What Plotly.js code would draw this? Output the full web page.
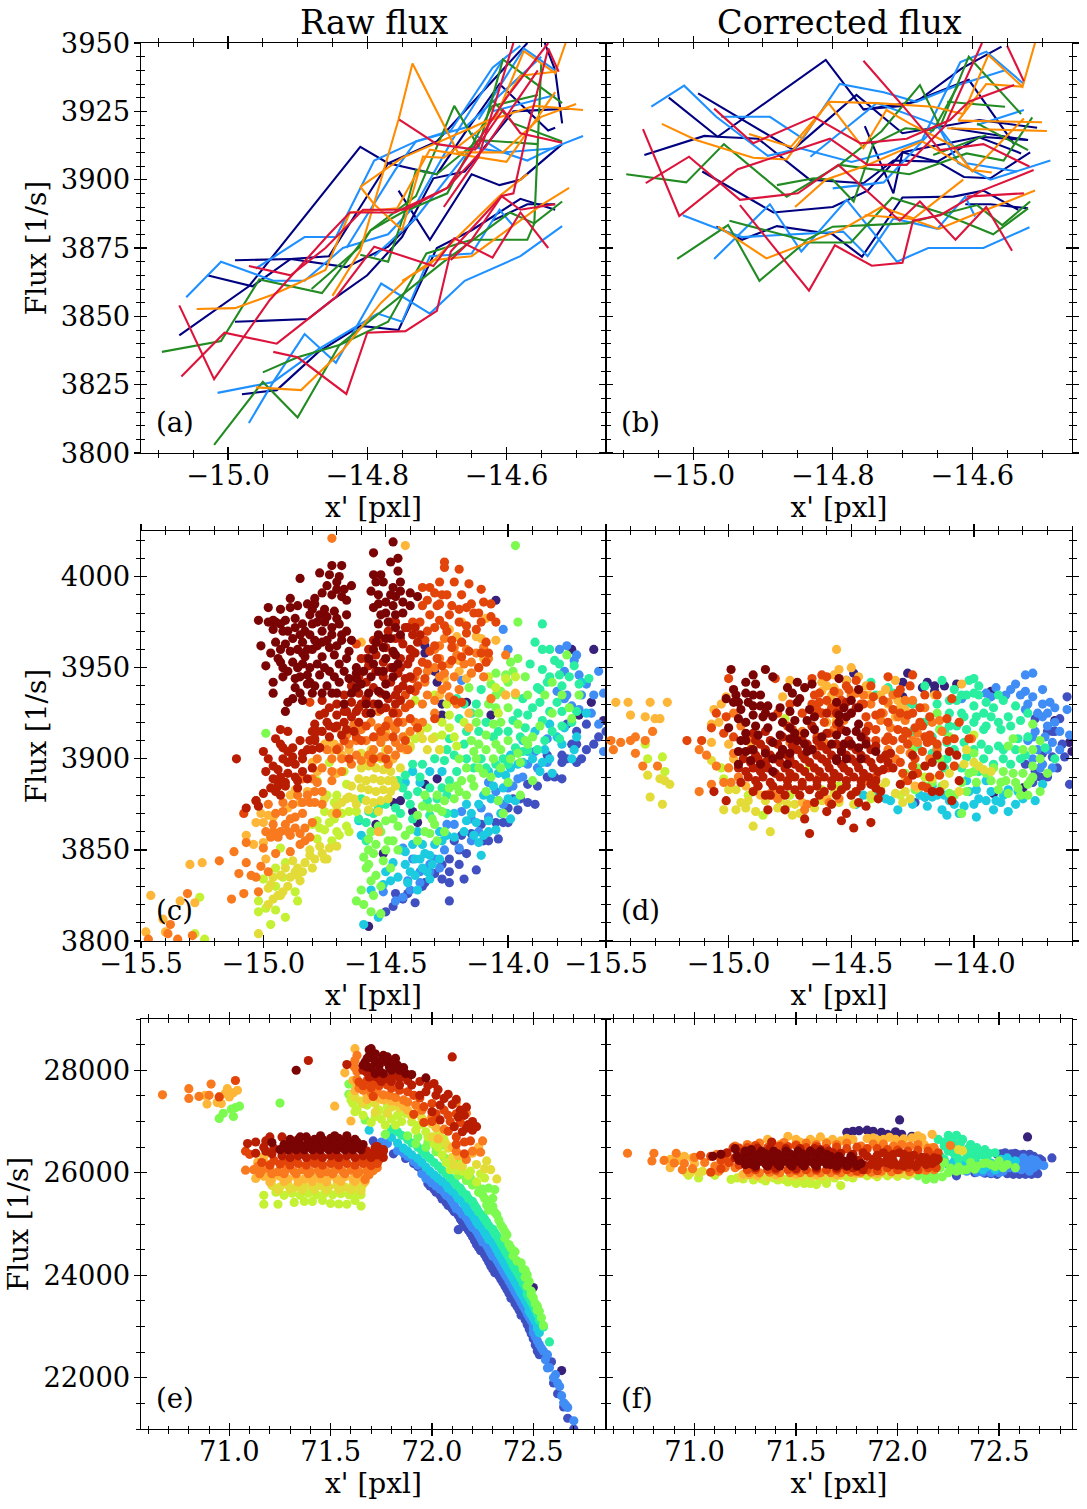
<!DOCTYPE html>
<html>
<head>
<meta charset="utf-8">
<script src="https://cdn.plot.ly/plotly-3.0.1.min.js"></script>
<style>body{margin:0;background:#fff}</style>
</head>
<body>
<div id="chart"></div>
<script>

// (a) raw flux, single orbits
let aNavy = [-15.07,3843,-14.97,3861,-14.81,3912,-14.77,3906,-14.70,3902,-14.66,3917,-14.61,3935,-14.54,3918,-14.53,3919,null,null,
 -15.03,3865,-14.965,3861,-14.91,3871,-14.855,3872,-14.77,3906,-14.70,3914,-14.57,3950,null,null,
 -14.99,3870.5,-14.91,3871,-14.83,3868,-14.77,3875.5,-14.73,3886,null,null,
 -14.755,3896,-14.73,3886,-14.71,3878,-14.65,3902,-14.61,3898,-14.58,3900,-14.52,3913,null,null,
 -14.99,3848,-14.885,3849,-14.85,3856,-14.80,3865,-14.75,3879,-14.705,3900.5,-14.66,3903,-14.59,3925,-14.51,3926,null,null,
 -14.98,3821.5,-14.93,3823,-14.87,3837,-14.81,3846.5,-14.755,3845,-14.70,3875,-14.65,3881.5,-14.58,3893,-14.53,3889,null,null,
 -14.545,3950,-14.53,3940,-14.52,3920.6,null,null,
 -14.62,3885,-14.57,3891,-14.53,3891];
let aBlue = [-15.06,3857,-15.01,3870,-14.935,3863,-14.89,3863,-14.835,3875,-14.77,3880,-14.73,3891,-14.67,3918,-14.605,3944,-14.58,3949,null,null,
 -14.96,3867.5,-14.89,3879,-14.845,3879,-14.79,3907,-14.73,3914,-14.68,3918,-14.62,3941,-14.605,3944,null,null,
 -14.83,3875,-14.76,3903.5,-14.73,3914,-14.66,3919,-14.55,3945,null,null,
 -14.65,3917,-14.605,3910,-14.57,3907,-14.53,3912,-14.49,3916,null,null,
 -14.97,3811,-14.935,3826,-14.89,3843.5,-14.845,3833,-14.78,3862,-14.71,3851,-14.66,3863,-14.58,3872,-14.52,3883,null,null,
 -15.015,3822,-14.935,3826,-14.87,3838,-14.785,3851,-14.75,3848,-14.71,3872,-14.65,3873,-14.61,3889,-14.59,3883,null,null,
 -14.79,3872,-14.73,3886,-14.65,3912,-14.605,3910,-14.53,3911.5,null,null,
 -14.64,3922,-14.575,3948,-14.53,3940,null,null,
 -14.62,3925,-14.53,3931];
let aGreen = [-15.095,3837,-15.01,3841,-14.955,3863.5,-14.865,3858.5,-14.795,3881.5,-14.73,3894,-14.675,3927,-14.64,3912,-14.605,3944,-14.52,3928,null,null,
 -15.02,3803,-14.95,3826,-14.90,3813,-14.84,3839.5,-14.77,3848,-14.715,3873,-14.65,3878,-14.57,3878,-14.56,3884,-14.55,3942.5,null,null,
 -14.95,3829.5,-14.90,3835,-14.84,3839.5,-14.69,3870,-14.595,3888,-14.56,3884,-14.52,3892,null,null,
 -14.88,3860,-14.81,3875.5,-14.795,3881.5,-14.75,3888,-14.685,3895,-14.62,3927,-14.555,3931,null,null,
 -14.81,3872.5,-14.77,3870,-14.745,3889,-14.73,3903.5,-14.70,3902,-14.64,3914.5,-14.555,3913,null,null,
 -14.62,3929,-14.59,3920.6,-14.52,3914];
let aOrange = [-15.045,3852.7,-14.99,3853,-14.935,3858,-14.90,3862,-14.86,3867,-14.825,3888,-14.757,3889.5,-14.71,3911,-14.60,3906.5,-14.53,3932,null,null,
 -14.85,3857.5,-14.81,3874,-14.755,3922,-14.735,3942.5,-14.67,3910,-14.605,3910,-14.55,3923,-14.50,3927.7,null,null,
 -14.81,3897.4,-14.75,3908,-14.65,3919,-14.615,3923,-14.575,3947,-14.53,3939,-14.515,3950,null,null,
 -14.81,3897.4,-14.79,3891,-14.75,3881.6,-14.72,3908.4,-14.69,3908,-14.62,3922,-14.58,3938,-14.53,3939.5,null,null,
 -14.96,3824,-14.895,3823,-14.835,3837.7,-14.78,3855,-14.74,3864.5,-14.705,3870.6,-14.65,3872,-14.615,3878.5,-14.55,3890.7,-14.51,3897,null,null,
 -14.75,3863,-14.71,3869,-14.66,3881.6,-14.61,3894,-14.57,3902,null,null,
 -14.62,3922,-14.56,3927,-14.49,3925.5];
let aCrimson = [-15.07,3854,-15.02,3827,-14.94,3856,-14.855,3880,-14.825,3888,-14.76,3888,-14.685,3897,-14.63,3912,-14.555,3940,null,null,
 -15.067,3828,-15.005,3844,-14.93,3840,-14.885,3849,-14.845,3857,-14.79,3875.5,-14.705,3868.4,-14.675,3878.5,-14.62,3871.5,-14.58,3888,-14.54,3875,null,null,
 -14.97,3868.4,-14.91,3865,-14.86,3875,-14.806,3889,-14.745,3889,-14.685,3897,-14.60,3930,-14.54,3950,null,null,
 -14.935,3837,-14.90,3835,-14.83,3821.6,-14.80,3844,-14.745,3844.6,-14.70,3852,-14.68,3873.7,-14.607,3894,-14.59,3895,-14.57,3918,-14.54,3948,-14.525,3939.5,null,null,
 -14.754,3922,-14.70,3913,-14.645,3911,-14.605,3925.5,-14.58,3917,-14.52,3913.5,null,null,
 -14.69,3890,-14.64,3908.4,-14.59,3950,null,null,
 -14.68,3870.6,-14.65,3878,-14.607,3894,-14.58,3889,-14.53,3891];

// (b) corrected flux, single orbits
let bNavy = [-15.07,3909,-14.984,3916,-14.965,3915.7,-14.81,3943.8,-14.756,3925.7,-14.70,3927,-14.605,3936.5,-14.54,3913,null,null,
 -15.035,3930,-14.965,3915.7,-14.907,3915,-14.833,3900,-14.756,3898.7,-14.713,3907,-14.65,3906.6,-14.59,3915.5,-14.53,3909.6,null,null,
 -14.993,3931.6,-14.857,3911,-14.766,3931,-14.70,3917,-14.59,3921.8,-14.507,3919,null,null,
 -14.754,3919.6,-14.713,3895,-14.70,3910,-14.65,3906.6,-14.612,3901,-14.574,3900.5,-14.517,3910,null,null,
 -14.987,3903,-14.885,3888,-14.80,3890,-14.75,3896,-14.70,3910,-14.589,3915.7,-14.52,3914.5,null,null,
 -14.967,3882.8,-14.93,3878,-14.88,3883,-14.80,3880,-14.758,3871.8,-14.70,3893.5,-14.627,3893.8,-14.584,3896,-14.534,3889,null,null,
 -14.558,3948.7,-14.615,3940.7,-14.68,3928.5,-14.756,3925.7,null,null,
 -14.63,3918.8,-14.52,3914.5,null,null,
 -14.61,3891,-14.574,3891,-14.52,3889.5];
let bBlue = [-15.06,3926.7,-15.013,3934.4,-14.967,3923,-14.893,3908.7,-14.847,3911.5,-14.773,3906.5,-14.727,3909.6,-14.672,3914.5,-14.617,3943,-14.58,3946.8,-14.526,3935,null,null,
 -14.96,3923,-14.89,3923,-14.843,3915,-14.79,3935,-14.727,3932,-14.68,3928.5,-14.62,3934.6,-14.553,3940,null,null,
 -14.832,3908.4,-14.737,3928,-14.65,3920,-14.62,3906,-14.574,3900,-14.488,3907,null,null,
 -14.97,3871,-14.89,3891,-14.845,3873.7,-14.78,3892.6,-14.708,3870,-14.663,3875,-14.584,3875,-14.518,3882.6,null,null,
 -15.015,3887,-14.972,3882.8,-14.93,3879,-14.785,3881,-14.75,3872,-14.713,3885.8,-14.65,3882,-14.61,3893.8,-14.596,3886.5,null,null,
 -14.80,3896.8,-14.727,3899,-14.65,3920,-14.608,3906,-14.536,3903,null,null,
 -14.593,3920,-14.526,3925.5];
let bGreen = [-15.096,3902,-15.01,3899,-14.956,3913,-14.866,3893.8,-14.79,3905.4,-14.73,3917.7,-14.675,3934.6,-14.646,3919.4,-14.605,3945,-14.53,3924,null,null,
 -15.023,3871,-14.95,3883.4,-14.905,3863,-14.84,3877,-14.774,3877,-14.715,3893.4,-14.646,3888,-14.57,3880,-14.52,3889.5,null,null,
 -14.948,3885,-14.84,3877.7,-14.80,3882.8,-14.694,3884,-14.593,3890.7,-14.557,3883.4,-14.517,3892,null,null,
 -14.88,3898,-14.827,3900.5,-14.80,3900,-14.77,3892,-14.742,3913,-14.696,3918.8,-14.656,3918,-14.62,3934.6,null,null,
 -14.79,3905.4,-14.69,3902,-14.608,3909.6,-14.555,3907,-14.514,3922.8,null,null,
 -14.636,3928.5,-14.553,3926.7,null,null,
 -14.593,3920.6,-14.52,3910.8,null,null,
 -14.656,3909,-14.58,3916.3];
let bOrange = [-15.045,3920.4,-14.996,3914.5,-14.914,3908,-14.866,3907.4,-14.806,3928.5,-14.737,3928,-14.656,3926.7,-14.613,3924,-14.577,3945.6,-14.528,3934,-14.51,3950,null,null,
 -14.92,3916.7,-14.86,3912,-14.806,3928,-14.756,3911.5,-14.723,3925.5,-14.69,3920.6,-14.63,3912.7,-14.60,3903,-14.526,3922.4,null,null,
 -14.854,3890,-14.81,3900,-14.75,3905.4,-14.672,3914,-14.60,3903.5,-14.572,3902.6,null,null,
 -14.964,3882.8,-14.895,3871.2,-14.785,3882,-14.73,3890,-14.684,3885.8,-14.613,3900,null,null,
 -14.754,3887,-14.69,3885.8,-14.648,3882,-14.60,3887,-14.51,3896,null,null,
 -14.62,3921.6,-14.58,3935,-14.528,3934,null,null,
 -14.62,3921.6,-14.5,3921,null,null,
 -14.636,3918.8,-14.493,3917.8];
let bCrimson = [-15.072,3918.5,-15.02,3886.7,-14.936,3903.8,-14.804,3915,-14.75,3905.4,-14.694,3905.4,-14.64,3919.4,-14.586,3950,null,null,
 -15.068,3898.7,-15.006,3908.4,-14.933,3892.6,-14.85,3895,-14.792,3905.4,-14.704,3885,-14.675,3892,-14.624,3878,-14.58,3890,-14.543,3874,null,null,
 -14.97,3926,-14.914,3913.3,-14.827,3923,-14.76,3913.3,-14.694,3915,-14.632,3921.8,-14.605,3928.5,-14.54,3934.6,null,null,
 -14.933,3890.7,-14.834,3859.4,-14.797,3876,-14.744,3868.5,-14.70,3869.6,-14.685,3885,-14.646,3887,-14.586,3896,-14.512,3903.5,null,null,
 -14.756,3943.5,-14.696,3926,-14.646,3910.8,-14.584,3913,-14.518,3904.8,null,null,
 -14.55,3949,-14.526,3936,null,null,
 -14.608,3893.8,-14.526,3895];

// (c) raw flux against x', split by colour value, low to high
let cIndigo = [-14.05,3987,-14.34,3962,-14.34,3958,-14.30,3948,-14.29,3942,-14.27,3930,-14.27,3924,-14.17,3931,-14.07,3924,-14.39,3871,-14.37,3865,-14.47,3876,-14.44,3877,-14.54,3864,-14.51,3848,-14.29,3889,-14.34,3886,-13.74,3960,-13.65,3960,-13.66,3931,-13.71,3924,-13.61,3921,-14.57,3808];
let cDeep = [-14.24,3822,-14.41,3826,-14.38,3821,-14.43,3823,-14.47,3819,-14.50,3816,-14.46,3826,-14.34,3832,-14.24,3832,-14.18,3834,-14.13,3839,-14.20,3842,-14.27,3834,-14.24,3845,-14.17,3848,-14.08,3855,-14.04,3856,-14.02,3865,-13.92,3876,-13.89,3875,-13.96,3872,-14.0,3873,-13.78,3889,-13.81,3890,-13.78,3898,-13.72,3898,-13.70,3900,-13.65,3908,-13.63,3912,-13.72,3908,-13.74,3908,-13.78,3902,-13.68,3919,-13.72,3915,-13.76,3919,-14.19,3858,-14.15,3859,-14.24,3838,-14.30,3837,-14.11,3864,-13.98,3878,-13.92,3886,-13.60,3915,-13.84,3902,-14.20,3850,-14.27,3842,-14.35,3830,-14.10,3855,-14.05,3865,-14.0,3865,-13.95,3878,-13.88,3885,-13.84,3890,-13.76,3900,-13.68,3905,-14.22,3855];
let cBlue = [-14.02,3971,-14.0,3960,-13.79,3960,-13.76,3962,-13.73,3954,-13.63,3948,-13.68,3941,-13.61,3936,-13.63,3919,-13.61,3904,-13.77,3948,-13.71,3946,-13.74,3929,-13.77,3933,-13.71,3927,-13.80,3937,-14.19,3943,-14.51,3827,-14.43,3824,-14.46,3822,-14.41,3833,-14.36,3838,-14.32,3842,-14.30,3845,-14.26,3850,-14.39,3845,-14.43,3851,-14.20,3851,-14.15,3867,-14.11,3873,-14.05,3882,-14.0,3884,-14.08,3887,-14.04,3877,-13.96,3889,-13.92,3897,-13.89,3904,-13.84,3911,-14.19,3871,-14.22,3864,-14.12,3860,-14.36,3832,-14.32,3838,-14.28,3840,-14.40,3828,-14.15,3855,-14.08,3868,-14.02,3875,-13.98,3885,-13.94,3890,-13.88,3895,-13.84,3898,-14.25,3864,-13.70,3935,-13.65,3935,-13.76,3935,-13.66,3925,-13.72,3957];
let cCyan = [-14.59,3809,-14.53,3813,-14.51,3831,-14.48,3833,-14.56,3828,-14.41,3832,-14.32,3834,-14.38,3836,-14.35,3840,-14.32,3847,-14.35,3853,-14.30,3853,-14.27,3855,-14.42,3849,-14.39,3853,-14.36,3845,-14.31,3842,-14.42,3842,-14.11,3847,-14.12,3854,-14.05,3861,-14.08,3866,-14.13,3865,-14.17,3866,-13.99,3867,-13.97,3877,-14.17,3875,-14.12,3875,-14.07,3878,-14.02,3884,-14.08,3893,-14.01,3891,-13.96,3897,-13.87,3893,-13.92,3904,-13.86,3898,-13.82,3892,-13.74,3900,-13.72,3912,-13.77,3917,-13.83,3919,-13.89,3915,-13.94,3910,-13.99,3902,-13.68,3925,-13.70,3942,-14.61,3866,-14.60,3858,-14.42,3887,-14.39,3893,-14.36,3887,-14.32,3893,-14.27,3893,-14.45,3835,-14.40,3838,-14.37,3828,-14.33,3838,-14.28,3845,-14.25,3858,-14.22,3857,-14.38,3845,-14.34,3848,-14.28,3860,-14.15,3870,-14.10,3858,-14.08,3860,-14.03,3870,-14.0,3878,-14.14,3858,-14.18,3860,-14.22,3870,-14.10,3880,-14.06,3885,-14.04,3892,-13.99,3895,-13.94,3898,-13.90,3900,-13.85,3905,-13.80,3912,-13.78,3908,-13.73,3905,-13.83,3900,-14.37,3860,-14.44,3850,-14.47,3843,-14.50,3838];
let cSpring = [-13.86,3974,-13.89,3964,-13.86,3960,-13.83,3960,-13.81,3954,-13.91,3952,-13.86,3949,-13.79,3946,-13.73,3951,-13.67,3944,-13.71,3941,-13.78,3940,-13.84,3942,-13.88,3939,-13.94,3933,-13.87,3931,-13.80,3931,-13.83,3926,-13.92,3924,-13.98,3921,-14.04,3915,-13.93,3917,-13.86,3921,-13.78,3926,-13.79,3911,-13.97,3906,-14.02,3900,-14.13,3930,-14.20,3922,-14.17,3915,-14.24,3911,-14.21,3933,-14.11,3938,-14.17,3900,-14.21,3893,-14.26,3899,-14.30,3900,-14.35,3897,-14.39,3897,-14.42,3891,-14.45,3888,-14.43,3884,-14.37,3882,-14.32,3884,-14.27,3884,-14.24,3888,-14.11,3900,-14.05,3897,-14.0,3897,-13.94,3904,-14.6,3878,-14.57,3871,-14.61,3867,-14.53,3873,-14.46,3873,-14.39,3867,-14.32,3869,-14.25,3870,-13.72,3926,-14.25,3905,-14.22,3902,-14.18,3908,-14.14,3895,-14.09,3895,-14.15,3925,-14.18,3930,-14.12,3915,-14.06,3912,-14.09,3920,-14.00,3915,-13.95,3912,-13.92,3905,-13.88,3905,-13.85,3910,-13.82,3915,-13.78,3918,-13.74,3920,-13.96,3925,-13.90,3928,-13.87,3938,-13.83,3945,-13.79,3952,-13.75,3945,-14.41,3880,-14.36,3890,-14.33,3877,-14.29,3878,-14.25,3880,-14.44,3870,-14.40,3875,-14.50,3875,-14.55,3870,-14.58,3865,-14.58,3855];
let cGreen = [-13.97,4017,-13.96,3975,-13.99,3953,-13.96,3955,-14.05,3947,-14.01,3946,-13.98,3948,-14.07,3941,-14.03,3937,-14.0,3942,-14.05,3928,-13.97,3935,-14.16,3939,-14.13,3920,-14.06,3919,-14.09,3913,-14.12,3908,-14.14,3904,-14.17,3895,-14.19,3888,-14.20,3882,-14.15,3889,-14.13,3900,-14.05,3908,-14.0,3910,-13.93,3910,-13.96,3919,-13.82,3942,-14.04,3877,-14.09,3882,-14.0,3887,-13.9,3888,-13.95,3898,-14.35,3874,-14.32,3873,-14.29,3873,-14.26,3877,-14.37,3869,-14.31,3867,-14.27,3871,-14.24,3884,-14.32,3859,-14.29,3855,-14.40,3861,-14.45,3863,-14.47,3867,-14.5,3866,-14.53,3863,-14.57,3856,-14.54,3853,-14.52,3860,-14.49,3855,-14.55,3848,-14.59,3846,-14.57,3842,-14.51,3844,-14.58,3840,-14.54,3836,-14.56,3833,-14.60,3828,-14.62,3822,-14.59,3820,-14.56,3816,-14.52,3815,-14.99,3914,-13.71,3935,-13.74,3922,-13.76,3957,-14.12,3925,-14.08,3930,-14.05,3935,-14.00,3928,-14.03,3920,-14.09,3905,-14.06,3900,-14.12,3895,-14.10,3892,-14.14,3885,-14.17,3880,-14.22,3878,-14.07,3890,-14.03,3895,-13.99,3900,-13.96,3903,-13.92,3908,-13.90,3912,-13.87,3918,-14.03,3905,-14.15,3910,-14.20,3900,-14.21,3885,-13.95,3880,-14.02,3870,-14.47,3855,-14.50,3850,-14.45,3850,-14.42,3858,-14.37,3855,-14.55,3825,-14.52,3830,-14.57,3850,-14.56,3860,-14.48,3840,-14.30,3864,-14.26,3860,-14.34,3880,-14.29,3880,-14.34,3860,-13.92,3935,-13.93,3945,-13.85,3935,-13.78,3935,-13.82,3925,-13.75,3928];
let cLime = [-15.26,3824,-15.02,3816,-14.99,3818,-15.02,3822,-14.86,3822,-14.95,3817,-14.91,3813,-14.97,3809,-15.24,3801,-15.28,3804,-14.95,3840,-14.93,3851,-14.91,3843,-14.87,3827,-15.0,3834,-14.78,3888,-14.73,3898,-14.67,3893,-14.66,3886,-14.71,3876,-14.75,3871,-14.78,3866,-14.80,3864,-14.75,3861,-14.70,3860,-14.78,3856,-14.71,3867,-14.66,3863,-14.65,3871,-14.62,3871,-14.38,3911,-14.33,3917,-14.27,3913,-14.21,3907,-14.24,3917,-14.01,3935,-14.05,3939,-14.38,3932,-14.30,3935,-14.24,3924,-14.74,3880,-14.70,3880,-14.68,3870,-14.73,3865,-14.77,3862,-14.95,3830,-14.92,3835,-14.65,3860,-14.69,3858,-14.72,3855,-14.40,3906,-14.30,3912,-14.27,3920,-14.22,3912,-14.18,3920,-14.28,3905,-14.08,3945,-14.04,3925,-14.01,3944,-13.97,3945,-14.25,3930];
let cYellow = [-15.02,3804,-14.98,3829,-14.97,3831,-14.94,3825,-14.92,3827,-14.96,3823,-14.98,3820,-14.91,3840,-14.93,3836,-14.89,3835,-14.87,3838,-14.84,3838,-14.86,3840,-14.85,3833,-14.88,3844,-14.81,3850,-14.79,3845,-14.81,3847,-14.75,3845,-14.73,3851,-14.70,3852,-14.77,3852,-14.66,3878,-14.65,3879,-14.60,3895,-14.57,3896,-14.54,3895,-14.51,3894,-14.48,3893,-14.61,3889,-14.58,3888,-14.55,3889,-14.52,3888,-14.49,3888,-14.60,3884,-14.57,3883,-14.54,3882,-14.51,3883,-14.48,3882,-14.58,3877,-14.55,3876,-14.52,3877,-14.49,3878,-14.57,3872,-14.53,3871,-14.58,3899,-14.55,3901,-14.52,3900,-14.56,3905,-14.60,3903,-14.35,3911,-14.41,3913,-14.31,3911,-14.64,3885,-14.63,3878,-14.62,3875,-14.70,3874,-14.72,3870,-14.75,3878,-14.68,3876,-14.80,3840,-14.76,3848,-14.74,3845,-14.86,3836,-14.83,3843,-14.90,3830,-14.93,3825,-14.96,3835,-14.40,3907,-14.36,3915,-14.33,3905,-14.28,3905,-14.44,3895,-14.46,3885,-14.47,3888,-14.50,3905,-14.47,3900];
let cAmber = [-15.46,3825,-15.30,3842,-15.25,3843,-15.40,3805,-15.41,3812,-15.28,3821,-15.34,3822,-15.48,3805,-15.03,3865,-15.01,3870,-14.96,3868,-14.98,3869,-14.89,3880,-14.85,3876,-14.80,3898,-14.73,3910,-14.71,3908,-14.75,3908,-15.07,3858,-15.04,3853,-14.99,3845,-15.0,3854,-14.70,3892,-14.6,3964,-14.19,3975,-14.24,3971,-14.13,3967,-14.05,3965,-14.21,3967,-14.11,3966,-14.09,3977,-14.2,3954,-14.17,3944,-14.15,3947,-14.01,3935,-13.97,3936,-14.16,3917,-14.26,3944,-14.53,3860,-14.42,4017,-15.0,3865,-14.90,3873,-14.87,3883,-14.82,3882,-14.78,3893,-14.72,3905,-14.68,3902,-14.65,3905,-14.42,3905,-14.47,3900,-14.50,3915,-14.28,3935,-14.16,3925,-14.10,3955,-14.20,3948];
let cOrange = [-14.72,4021,-15.31,3826,-15.38,3809,-15.39,3804,-15.35,3801,-15.47,3801,-15.29,3803,-15.13,3823,-15.08,3826,-15.02,3827,-15.10,3837,-15.05,3836,-15.07,3843,-15.01,3841,-15.07,3854,-15.0,3851,-14.95,3848,-14.89,3849,-15.12,3849,-15.18,3844,-14.99,3860,-14.96,3864,-14.97,3857,-14.94,3857,-14.92,3871,-14.89,3867,-14.87,3862,-14.85,3859,-14.91,3864,-14.89,3858,-14.81,3857,-14.83,3855,-14.80,3865,-14.84,3876,-14.81,3876,-14.79,3876,-14.76,3875,-14.70,3870,-14.79,3882,-14.72,3888,-14.80,3889,-14.84,3889,-14.70,3917,-14.66,3913,-14.63,3919,-14.60,3916,-14.56,3920,-14.53,3917,-14.49,3921,-14.46,3916,-14.43,3920,-14.69,3906,-14.65,3908,-14.62,3902,-14.58,3910,-14.55,3905,-14.52,3909,-14.49,3905,-14.46,3909,-14.43,3912,-14.64,3897,-14.60,3899,-14.56,3898,-14.52,3901,-14.49,3897,-14.58,3925,-14.53,3926,-14.47,3926,-14.30,3960,-14.28,3955,-14.26,3966,-14.22,3961,-14.19,3964,-14.30,3950,-14.26,3947,-14.24,3952,-14.21,3957,-14.17,3960,-14.13,3958,-14.10,3961,-14.12,3950,-14.08,3955,-14.15,3947,-14.10,3945,-14.27,3938,-14.30,3932,-14.24,3934,-14.34,3942,-14.38,3945,-14.35,3930,-14.30,3925,-14.21,3930,-14.07,3933,-14.01,3957,-14.78,3900,-14.74,3905,-14.72,3900,-14.68,3900,-14.76,3895,-14.72,3893,-14.68,3893,-14.44,3906,-14.41,3905,-14.38,3920,-14.35,3920,-14.40,3915,-14.46,3902,-14.62,3910,-14.57,3902,-14.53,3912,-14.50,3912,-14.47,3918,-14.96,3860,-14.93,3860,-14.90,3860,-14.87,3868,-14.84,3870,-14.82,3880,-14.78,3887,-14.76,3882,-14.86,3880,-14.88,3875,-14.92,3876,-14.95,3870,-14.98,3875,-14.85,3853,-14.83,3862,-15.03,3835,-14.98,3838,-14.33,3948,-14.28,3945,-14.25,3940,-14.22,3945,-14.20,3938,-14.18,3952,-14.15,3953,-14.28,3962,-14.33,3935];
let cRust = [-14.26,4008,-14.26,4005,-14.20,4004,-14.28,3997,-14.22,3997,-14.16,3996,-14.11,3993,-14.35,3994,-14.32,3994,-14.30,3991,-14.27,3990,-14.19,3990,-14.10,3986,-14.07,3985,-14.17,3983,-14.23,3984,-14.29,3984,-14.35,3984,-14.24,3979,-14.14,3980,-14.07,3978,-14.05,3975,-14.11,3975,-14.17,3973,-14.28,3976,-14.32,3979,-14.26,3973,-14.13,3971,-14.17,3969,-14.23,3965,-14.19,3964,-14.09,3964,-14.23,3961,-14.16,3959,-14.11,3958,-14.08,3958,-14.09,3953,-14.19,3956,-14.23,3954,-14.27,3951,-14.12,3950,-14.35,3953,-14.32,3959,-14.29,3955,-14.39,3959,-14.37,3948,-14.39,3944,-14.34,3944,-14.38,3937,-14.22,3932,-14.19,3931,-14.30,3922,-14.37,3917,-14.62,3963,-14.81,3931,-15.03,3877,-15.08,3870,-14.42,3935,-14.40,3930,-14.37,3940,-14.33,3952,-14.30,3962,-14.34,3965,-14.30,3972,-14.36,3975,-14.33,3970,-14.39,3975,-14.28,3985,-14.25,3990,-14.20,3982,-14.15,3985,-14.20,3975,-14.12,3980,-14.25,3970,-14.33,3987,-14.42,3928,-14.45,3925,-14.40,3922,-14.45,3920,-14.50,3918,-14.55,3912,-14.60,3910,-14.62,3912,-14.67,3910,-14.70,3905,-14.58,3918,-14.52,3915,-14.47,3912,-14.42,3910,-14.65,3900,-14.55,3900,-14.50,3900];
let cRed = [-14.46,3975,-14.42,3972,-14.39,3968,-14.37,3964,-14.49,3970,-14.46,3966,-14.43,3963,-14.40,3960,-14.53,3964,-14.50,3961,-14.47,3958,-14.44,3955,-14.41,3952,-14.57,3960,-14.54,3957,-14.51,3953,-14.48,3950,-14.45,3947,-14.42,3944,-14.60,3955,-14.57,3951,-14.54,3948,-14.51,3945,-14.48,3942,-14.45,3938,-14.61,3945,-14.58,3942,-14.55,3939,-14.52,3936,-14.49,3933,-14.46,3930,-14.64,3940,-14.61,3936,-14.58,3933,-14.55,3930,-14.52,3927,-14.67,3935,-14.64,3931,-14.61,3928,-14.58,3925,-14.70,3930,-14.67,3926,-14.64,3923,-14.61,3920,-14.73,3928,-14.70,3924,-14.67,3920,-14.76,3932,-14.77,3924,-14.74,3920,-14.71,3917,-14.79,3919,-14.76,3915,-14.73,3912,-14.68,3913,-14.66,3916,-14.79,3910,-14.77,3906,-15.0,3904,-14.99,3893,-14.98,3900,-14.96,3896,-14.96,3889,-14.94,3887,-14.93,3890,-14.94,3885,-14.91,3887,-14.86,3888,-14.82,3889,-14.87,3897,-14.90,3898,-14.84,3900,-14.88,3901,-14.93,3908,-14.95,3911,-14.92,3906,-14.85,3910,-14.81,3910,-14.79,3911,-14.77,3906,-14.90,3915,-14.93,3916,-15.11,3900,-15.07,3873,-15.02,3874,-15.0,3881,-15.03,3877,-14.95,3882,-14.48,3975,-14.44,3966,-14.41,3972,-14.38,3972,-14.36,3968,-14.52,3966,-14.40,3955,-14.38,3958,-14.55,3965,-14.58,3955,-14.44,3950,-14.40,3945,-14.46,3935,-14.43,3940,-14.40,3938,-14.50,3928,-14.47,3925,-14.44,3932,-14.60,3930,-14.62,3926,-14.66,3926,-14.70,3918,-14.63,3915,-14.75,3925,-14.73,3918,-14.78,3915,-14.80,3915,-14.82,3905,-14.84,3903,-14.80,3905,-14.88,3906,-14.90,3904,-14.92,3900,-14.94,3894,-14.90,3892,-14.87,3890,-14.84,3893,-14.80,3895,-14.91,3885,-14.97,3884,-14.93,3880,-14.86,3884];
let cMaroon = [-14.72,4006,-14.68,4006,-14.85,3999,-14.77,4002,-14.73,4001,-14.69,4000,-14.70,3997,-14.64,3995,-14.67,3993,-14.55,4013,-14.47,4019,-14.45,4010,-14.48,4008,-14.45,4003,-14.55,4001,-14.52,4001,-14.54,3997,-14.51,3997,-14.44,3997,-14.47,3994,-14.53,3990,-15.02,3976,-14.98,3975,-14.96,3976,-14.98,3983,-14.93,3982,-14.89,3988,-14.89,3983,-14.91,3976,-14.93,3974,-14.96,3971,-14.86,3984,-14.82,3985,-14.79,3985,-14.76,3991,-14.79,3988,-14.72,3990,-14.68,3989,-14.66,3987,-14.71,3981,-14.66,3979,-14.77,3979,-14.81,3979,-14.87,3977,-14.84,3974,-14.80,3974,-14.75,3975,-14.69,3974,-14.90,3970,-14.83,3970,-14.76,3970,-14.66,3970,-14.72,3968,-14.95,3964,-14.91,3963,-14.84,3964,-14.79,3965,-14.68,3965,-15.01,3962,-14.89,3959,-14.80,3960,-14.73,3961,-14.65,3959,-14.94,3955,-14.83,3956,-14.76,3956,-14.71,3957,-14.93,3953,-14.99,3951,-14.88,3953,-14.84,3952,-14.69,3952,-14.90,3948,-14.81,3950,-14.87,3944,-14.81,3942,-14.77,3946,-14.73,3948,-14.96,3942,-14.96,3936,-14.87,3939,-14.82,3941,-14.74,3940,-14.67,3948,-14.88,3933,-14.90,3931,-14.84,3932,-14.91,3926,-14.53,3985,-14.46,3989,-14.40,3991,-14.37,3989,-14.47,3984,-14.40,3984,-14.52,3979,-14.46,3979,-14.53,3974,-14.46,3972,-14.50,3966,-14.54,3964,-14.47,3959,-14.51,3961,-14.57,3955,-14.53,3948,-14.47,3950,-14.59,3948,-14.60,3941,-14.53,3937,-14.50,3941,-14.46,3957,-14.53,3930,-14.62,3939,-14.95,3975,-14.92,3970,-14.87,3972,-14.85,3968,-14.81,3968,-14.78,3975,-14.74,3978,-14.70,3977,-14.72,3972,-14.68,3968,-14.64,3965,-14.74,3965,-14.78,3962,-14.82,3960,-14.86,3960,-14.93,3960,-14.97,3958,-14.92,3950,-14.86,3950,-14.82,3946,-14.78,3952,-14.75,3950,-14.71,3945,-14.69,3942,-14.65,3944,-14.85,3945,-14.79,3940,-14.76,3936,-14.72,3936,-14.85,3936,-14.80,3936,-14.66,3955,-14.62,3950,-14.70,3962,-14.76,3964,-14.88,3966,-14.92,3945,-14.84,3958,-14.80,3982,-14.75,3982,-14.70,3993,-14.74,3995,-14.62,3947,-14.56,3992,-14.50,3986,-14.43,3986,-14.48,3990,-14.44,3992,-14.55,3983,-14.49,3975,-14.43,3980,-14.50,3980,-14.53,3968,-14.48,3966,-14.44,3968,-14.55,3960,-14.50,3955,-14.45,3952,-14.55,3952,-14.51,3948,-14.56,3945,-14.50,3935,-14.47,3945,-14.57,3936,-14.62,3944,-14.64,3936,-14.58,3930,-14.67,3930,-14.70,3936,-14.56,3925];

// (d) corrected flux against x'
let dIndigo = [-14.27,3947,-14.29,3942,-14.19,3942,-14.21,3939,-14.16,3940,-14.12,3940,-14.07,3941,-14.52,3943,-14.49,3947,-14.16,3937,-14.29,3934,-13.93,3937,-13.67,3921,-13.61,3909,-13.6,3904,-13.80,3884,-13.92,3881];
let dDeep = [-13.62,3934,-13.65,3922,-13.75,3922,-13.70,3915,-13.72,3903,-13.68,3901,-13.63,3901,-13.66,3895,-13.73,3890,-13.79,3897,-14.24,3876,-14.20,3879,-13.61,3886,-13.68,3915,-13.64,3908,-13.70,3890,-13.76,3887,-13.67,3915,-13.75,3893];
let dBlue = [-13.79,3946,-13.76,3947,-13.83,3941,-13.91,3939,-13.79,3937,-13.72,3938,-13.87,3935,-13.81,3935,-13.76,3934,-13.69,3931,-13.72,3930,-13.93,3934,-13.67,3928,-13.62,3927,-13.79,3927,-13.72,3923,-13.67,3920,-13.76,3912,-13.78,3910,-13.68,3909,-13.65,3915,-13.61,3913,-13.72,3897,-13.85,3938,-13.78,3930,-13.74,3925,-13.7,3925,-13.75,3915,-13.71,3912,-13.74,3905,-13.70,3905,-13.76,3900,-13.73,3895,-13.68,3895,-13.65,3905,-13.70,3918,-14.05,3933,-13.95,3936];
let dCyan = [-14.31,3872,-14.11,3869,-13.99,3868,-14.06,3870,-14.13,3872,-13.86,3871,-13.83,3875,-13.89,3876,-13.91,3877,-13.95,3877,-13.98,3878,-13.75,3877,-14.04,3874,-14.10,3877,-14.34,3877,-14.36,3878,-14.39,3881,-14.19,3874,-14.20,3879,-13.72,3886,-14.17,3879,-13.99,3883,-13.93,3882,-13.86,3883,-14.03,3888,-13.95,3888,-14.48,3875,-14.17,3885,-14.0,3875,-13.92,3872,-13.88,3880,-14.08,3875,-14.15,3880,-14.22,3880,-13.82,3882,-14.02,3882,-14.12,3880,-13.80,3878,-14.45,3880,-14.25,3875];
let dSpring = [-14.02,3943,-14.0,3944,-14.13,3943,-13.98,3940,-14.20,3940,-14.03,3935,-13.98,3935,-14.07,3932,-14.1,3932,-14.0,3929,-13.95,3931,-13.88,3932,-13.83,3929,-14.04,3923,-13.99,3923,-13.93,3923,-13.86,3923,-13.81,3921,-14.10,3918,-14.03,3916,-13.96,3916,-13.89,3916,-13.82,3911,-14.17,3912,-14.11,3909,-14.04,3909,-13.97,3908,-13.90,3907,-13.71,3906,-13.67,3900,-13.79,3902,-14.17,3903,-14.11,3900,-14.03,3901,-13.96,3900,-13.88,3900,-13.81,3900,-14.23,3907,-14.28,3929,-14.35,3939,-14.42,3942,-14.15,3930,-14.08,3938,-14.05,3925,-14.0,3936,-13.96,3925,-13.92,3928,-13.90,3935,-14.12,3915,-14.07,3918,-14.0,3920,-13.95,3918,-13.90,3920,-13.85,3918,-14.15,3906,-14.08,3905,-14.0,3905,-13.94,3905,-13.88,3905,-13.83,3905,-14.12,3895,-14.05,3895,-13.98,3893,-13.92,3897,-13.85,3897,-14.1,3925,-14.05,3935,-14.2,3920,-14.25,3915,-14.25,3930,-13.78,3925,-13.78,3912,-14.33,3936,-14.40,3935];
let dGreen = [-13.76,3919,-13.73,3910,-13.76,3896,-13.70,3892,-13.73,3882,-13.77,3888,-13.78,3880,-13.81,3880,-13.86,3881,-13.83,3887,-13.89,3887,-13.93,3888,-13.84,3892,-13.80,3892,-13.99,3887,-14.03,3882,-14.10,3881,-14.17,3887,-14.02,3892,-13.84,3911,-13.86,3907,-14.0,3903,-14.05,3870,-14.14,3916,-14.24,3883,-14.0,3893,-13.95,3892,-13.90,3883,-13.87,3888,-13.82,3884,-13.78,3886,-13.76,3890,-13.92,3895,-13.88,3893,-14.05,3887,-14.08,3880,-14.13,3885,-14.20,3885,-14.14,3900,-14.15,3925,-14.1,3912,-14.23,3895,-14.28,3892,-14.25,3905,-13.80,3905,-13.76,3905,-13.73,3900];
let dLime = [-15.33,3900,-15.26,3893,-15.27,3901,-15.34,3908,-14.86,3869,-14.77,3922,-14.0,3913,-15.03,3895,-15.02,3889,-14.67,3896,-14.50,3880,-14.30,3880,-14.42,3878,-14.20,3890,-14.92,3880,-14.75,3880,-14.62,3883,-14.55,3885];
let dYellow = [-15.33,3891,-15.28,3889,-15.26,3888,-15.32,3879,-15.27,3875,-15.24,3886,-15.07,3899,-15.02,3872,-14.97,3872,-14.90,3863,-14.83,3860,-14.89,3871,-14.74,3869,-14.71,3870,-14.79,3877,-14.85,3877,-14.95,3876,-14.92,3877,-15.0,3883,-14.97,3883,-14.62,3877,-14.73,3875,-14.49,3875,-14.29,3876,-14.26,3878,-14.17,3889,-14.12,3886,-14.06,3882,-14.04,3897,-13.98,3896,-13.93,3893,-14.03,3905,-14.36,3887,-14.32,3881,-14.57,3881,-14.93,3873,-14.80,3873,-14.76,3875,-14.65,3873,-14.55,3876,-14.42,3880,-14.38,3884,-14.28,3882,-14.23,3884,-14.10,3892,-14.08,3896,-14.0,3898,-13.96,3894];
let dAmber = [-15.46,3931,-15.41,3931,-15.32,3931,-15.25,3931,-15.40,3924,-15.34,3923,-15.30,3922,-15.28,3922,-14.56,3960,-14.50,3950,-14.55,3949,-14.57,3946,-14.75,3943,-14.60,3940,-14.57,3939,-14.32,3943,-14.36,3938,-14.44,3940,-14.78,3934,-15.03,3930,-15.01,3934,-15.06,3927,-15.04,3920,-15.07,3919,-15.07,3909,-15.0,3908,-14.31,3932,-14.28,3927,-14.32,3923,-14.05,3941,-14.16,3935,-14.91,3909,-14.62,3937,-14.59,3931,-14.56,3921,-14.52,3943,-14.47,3945,-14.43,3935,-14.38,3935,-14.35,3930,-14.30,3928,-14.62,3942,-14.58,3935,-14.65,3925,-14.60,3920,-14.98,3900,-14.93,3885,-14.87,3880,-14.80,3882,-14.70,3876,-14.60,3878,-14.48,3882,-14.28,3890,-14.24,3885];
let dOrange = [-15.48,3910,-15.44,3909,-15.40,3910,-15.38,3912,-15.34,3910,-15.31,3915,-15.47,3905,-15.38,3903,-15.35,3896,-15.29,3896,-15.12,3905,-15.09,3902,-15.05,3896,-15.02,3887,-14.99,3887,-15.07,3886,-15.12,3882,-14.38,3921,-14.35,3931,-14.31,3923,-14.28,3921,-14.34,3917,-14.26,3903,-14.23,3909,-14.14,3921,-14.57,3916,-14.61,3909,-14.60,3898,-14.63,3890,-14.71,3911,-14.75,3909,-14.91,3911,-14.98,3903,-14.44,3888,-14.80,3878,-14.83,3881,-14.69,3872,-14.59,3876,-14.48,3936,-14.55,3936,-14.53,3921,-14.01,3911,-14.42,3930,-14.33,3935,-14.28,3932,-14.25,3932,-14.20,3928,-14.17,3920,-14.13,3915,-14.15,3905,-14.23,3914,-14.30,3905,-14.25,3910,-14.18,3900,-14.35,3905,-14.37,3925,-14.32,3900,-14.45,3935,-14.62,3925,-14.58,3925,-14.54,3928,-14.50,3935,-14.66,3918,-14.70,3915,-14.98,3925,-14.95,3918,-15.0,3895,-14.96,3890,-14.88,3885,-14.82,3880,-14.68,3875,-14.55,3878];
let dRust = [-15.17,3910,-15.11,3910,-15.0,3944,-14.81,3944,-14.62,3946,-14.66,3944,-14.48,3943,-14.63,3936,-14.57,3937,-14.51,3938,-14.25,3946,-14.26,3940,-14.31,3936,-14.41,3934,-14.37,3932,-14.20,3935,-14.15,3935,-14.09,3933,-14.22,3928,-14.18,3923,-14.11,3922,-14.06,3920,-14.27,3924,-14.33,3927,-14.40,3924,-14.44,3923,-14.63,3931,-14.64,3927,-14.58,3928,-14.76,3918,-15.05,3925,-15.01,3923,-15.07,3917,-15.02,3914,-14.98,3912,-14.21,3918,-14.24,3917,-14.29,3911,-14.18,3913,-14.17,3910,-14.19,3909,-14.11,3910,-14.08,3911,-14.02,3911,-14.08,3896,-14.14,3891,-14.21,3885,-14.19,3884,-14.29,3892,-14.25,3896,-14.36,3910,-14.40,3916,-14.61,3920,-14.64,3912,-14.59,3914,-14.63,3907,-14.74,3916,-14.31,3916,-14.27,3914,-14.60,3932,-14.54,3932,-14.50,3925,-14.45,3930,-14.43,3918,-14.38,3925,-14.35,3920,-14.30,3925,-14.25,3925,-14.22,3920,-14.33,3910,-14.27,3908,-14.21,3904,-14.24,3900,-14.30,3898,-14.35,3895,-14.40,3890,-14.27,3888,-14.23,3892,-14.18,3890,-14.15,3908,-14.20,3912,-14.28,3915,-14.35,3912,-14.40,3910,-14.65,3935,-14.60,3945,-14.56,3928,-14.52,3940,-14.46,3930,-14.42,3940,-14.35,3945,-14.30,3938,-14.70,3925,-14.75,3930,-14.80,3925,-14.66,3930,-14.62,3925,-14.56,3919];
let dRed = [-14.88,3885,-14.82,3885,-14.76,3885,-14.70,3885,-14.64,3885,-14.58,3885,-14.52,3885,-14.46,3885,-14.92,3890,-14.86,3890,-14.79,3890,-14.73,3890,-14.67,3890,-14.61,3890,-14.55,3890,-14.49,3890,-14.43,3890,-14.96,3895,-14.90,3895,-14.84,3895,-14.77,3895,-14.71,3895,-14.65,3895,-14.59,3895,-14.53,3895,-14.47,3895,-14.41,3895,-14.94,3900,-14.88,3900,-14.81,3900,-14.75,3900,-14.69,3900,-14.62,3900,-14.56,3900,-14.50,3900,-14.44,3900,-14.38,3900,-14.91,3905,-14.85,3905,-14.78,3905,-14.72,3905,-14.66,3905,-14.60,3905,-14.54,3905,-14.48,3905,-14.42,3905,-14.89,3910,-14.83,3910,-14.70,3910,-14.64,3910,-14.51,3910,-14.44,3910,-14.83,3880,-14.77,3880,-14.71,3880,-14.63,3880,-14.56,3880,-14.50,3880,-14.67,3859,-14.49,3862,-14.42,3865,-14.54,3866,-14.52,3870,-14.69,3867,-14.77,3872,-14.84,3872,-14.60,3871,-14.44,3874,-14.47,3876,-14.58,3875,-14.65,3876,-14.09,3877,-14.06,3888,-14.10,3904,-14.07,3902,-14.13,3896,-14.15,3902,-14.17,3898,-14.17,3882,-14.14,3882,-15.06,3882,-15.01,3877,-14.40,3884,-14.38,3882,-14.39,3878,-14.25,3902,-14.34,3903,-14.33,3895,-14.30,3886,-14.20,3896,-14.37,3894,-14.25,3891,-14.90,3882,-14.85,3880,-14.79,3883,-14.73,3883,-14.67,3883,-14.61,3882,-14.54,3883,-14.48,3882,-14.42,3886,-14.95,3887,-14.89,3888,-14.83,3887,-14.76,3888,-14.70,3887,-14.64,3888,-14.58,3888,-14.52,3888,-14.46,3888,-14.40,3888,-14.93,3893,-14.87,3893,-14.81,3892,-14.75,3892,-14.69,3893,-14.63,3893,-14.57,3892,-14.51,3893,-14.45,3892,-14.39,3893,-14.35,3898,-14.91,3898,-14.85,3898,-14.79,3898,-14.73,3897,-14.67,3898,-14.60,3898,-14.54,3897,-14.48,3898,-14.42,3898,-14.36,3902,-14.89,3902,-14.83,3902,-14.76,3902,-14.70,3902,-14.64,3902,-14.58,3902,-14.52,3902,-14.46,3902,-14.40,3907,-14.87,3908,-14.80,3908,-14.74,3907,-14.68,3908,-14.62,3907,-14.56,3908,-14.50,3907,-14.44,3915,-14.90,3914,-14.85,3915,-14.78,3912,-14.66,3918,-14.60,3914,-14.54,3916,-14.48,3928,-14.56,3925,-14.52,3931,-14.60,3925];
let dMaroon = [-14.99,3949,-14.90,3946,-14.85,3949,-14.82,3945,-14.93,3942,-14.89,3941,-14.72,3942,-14.76,3939,-14.69,3939,-14.66,3941,-14.55,3944,-14.47,3938,-14.98,3938,-14.97,3935,-14.93,3936,-14.90,3935,-14.87,3935,-15.01,3933,-14.98,3931,-14.96,3931,-14.92,3931,-14.74,3936,-14.71,3933,-14.72,3931,-14.56,3931,-14.50,3932,-14.47,3928,-14.53,3928,-14.95,3927,-14.87,3929,-14.84,3929,-14.79,3928,-14.75,3926,-14.67,3927,-14.90,3924,-14.86,3923,-14.82,3923,-14.73,3921,-14.65,3923,-14.68,3921,-14.55,3924,-14.52,3923,-14.47,3919,-15.0,3917,-14.93,3920,-14.89,3918,-14.84,3917,-14.93,3914,-14.88,3913,-14.79,3913,-14.73,3914,-14.69,3914,-14.65,3916,-14.56,3913,-14.52,3915,-14.46,3912,-14.93,3910,-14.82,3909,-14.75,3911,-14.53,3908,-14.93,3904,-14.85,3903,-14.79,3902,-14.75,3903,-14.68,3904,-14.54,3904,-14.47,3906,-14.40,3904,-14.91,3899,-14.82,3900,-14.96,3897,-14.56,3899,-14.46,3900,-14.96,3922,-14.90,3929,-14.85,3925,-14.78,3920,-14.75,3917,-14.90,3905,-14.87,3897,-14.82,3893,-14.78,3905,-14.76,3897,-14.72,3910,-14.69,3908,-14.66,3905,-14.62,3912,-14.58,3908,-14.55,3920,-14.50,3925,-14.56,3900,-14.52,3900,-14.48,3915,-14.44,3908,-14.50,3908,-14.96,3904,-14.95,3910];

// (e) raw flux, second star
let eIndigo = [72.64,22140,72.50,23760];
let eDeep = [71.71,26620,71.76,26480,71.81,26370,71.87,26280,71.91,26180,71.95,26050,71.98,25790,72.01,25680,72.04,25560,72.07,25420,72.10,25300,72.13,25170,72.15,25040,72.13,24890,72.16,24950,72.18,24880,72.20,24750,72.22,24600,72.24,24480,72.27,24330,72.29,24180,72.31,24050,72.34,23920,72.36,23790,72.38,23650,72.41,23450,72.43,23320,72.46,23130,72.48,22950,72.50,22760,72.52,22520,72.59,22310,72.60,21900,72.62,21690,72.65,21430,72.67,21210,72.70,21000,71.93,26120,71.97,25960,71.99,25740,72.02,25620,72.05,25490,72.08,25360,72.11,25240,72.14,25100,72.17,24960,72.19,24820,72.21,24680,72.23,24540,72.26,24400,72.28,24260,72.30,24120,72.33,23990,72.35,23860,72.37,23720,72.39,23550,72.42,23390,72.44,23220,72.47,23040,72.49,22860,72.51,22640,72.53,22450];
let eBlue = [71.78,26570,71.83,26430,71.88,26320,71.93,26150,71.97,25890,72.0,25800,72.04,25680,72.07,25560,72.10,25440,72.12,25300,72.15,25190,72.18,25060,72.20,24930,72.23,24790,72.25,24650,72.28,24510,72.30,24370,72.33,24230,72.35,24090,72.37,23960,72.39,23820,72.41,23680,72.43,23540,72.45,23400,72.47,23250,72.49,23110,72.50,22970,72.51,22800,72.53,22650,72.55,22520,72.57,22450,72.57,22190,72.61,22060,72.62,21900,72.63,21830,72.65,21510,72.67,21420,72.70,21160,71.75,26600,71.86,26380,71.91,26220,71.95,25980,71.99,25850,72.02,25740,72.06,25620,72.09,25500,72.11,25370,72.14,25250,72.17,25120,72.19,24990,72.22,24860,72.24,24720,72.27,24580,72.29,24440,72.32,24300,72.34,24160,72.36,24020,72.38,23890,72.40,23750,72.42,23610,72.44,23470,72.46,23330,72.48,23180,72.50,23040,72.50,22880,72.52,22720,72.54,22580,72.56,22350,72.58,22200,72.60,22000,72.64,21650,72.66,21470];
let eCyan = [71.69,26830,71.80,26690,71.86,26480,71.90,26350,71.95,26200,71.99,26030,72.03,25890,72.07,25770,72.10,25640,72.13,25500,72.16,25380,72.18,25240,72.21,25110,72.23,24980,72.26,24840,72.28,24700,72.31,24570,72.33,24420,72.35,24290,72.37,24150,72.39,24010,72.41,23870,72.43,23720,72.45,23590,72.47,23440,72.48,23300,72.50,23170,72.52,23030,72.53,22880,71.83,26580,71.88,26420,71.93,26280,71.97,26110,72.01,25960,72.05,25830,72.08,25700,72.12,25570,72.15,25440,72.17,25310,72.20,25180,72.22,25040,72.25,24910,72.27,24770,72.30,24640,72.32,24500,72.34,24360,72.36,24220,72.38,24080,72.40,23940,72.42,23800,72.44,23650,72.46,23510,72.48,23370,72.49,23240,72.51,23100,72.52,22960];
let eSpring = [71.83,26800,71.88,26650,71.93,26500,71.97,26350,72.01,26200,72.05,26050,72.09,25900,72.12,25760,72.15,25630,72.18,25500,72.21,25370,72.23,25240,72.26,25100,72.28,24970,72.31,24830,72.33,24700,72.35,24560,72.37,24420,72.39,24280,72.41,24130,72.43,24000,72.45,23850,72.47,23700,72.48,23560,72.50,23420,72.52,23240,72.53,23120,72.55,22990,72.58,22700,71.80,26850,71.85,26730,71.90,26580,71.95,26430,71.99,26280,72.03,26130,72.07,25980,72.11,25830,72.14,25700,72.17,25570,72.20,25440,72.22,25310,72.25,25170,72.27,25040,72.30,24900,72.32,24770,72.34,24630,72.36,24490,72.38,24350,72.40,24200,72.42,24070,72.44,23930,72.46,23780,72.47,23630,72.49,23490,72.51,23330];
let eGreen = [71.67,27030,71.92,26570,71.97,26500,72.02,26410,72.05,26540,72.08,26250,72.10,26100,72.14,26210,72.13,25950,72.17,25850,72.20,25760,72.23,25620,72.25,25570,72.28,25700,72.31,25670,72.30,25500,72.27,25370,72.28,25270,72.32,25180,72.34,24980,72.36,24850,72.37,24790,72.38,24600,72.41,24460,72.44,24240,72.46,24100,72.47,24010,72.48,23880,72.49,23690,72.50,23560,72.52,23400,72.53,23300,72.55,23020,71.59,27730,71.59,27530,71.77,26750,71.25,27360,70.95,27060,70.97,27160,71.02,27100,71.01,27240,71.05,27300,71.03,27270,71.88,26720,71.93,26700,71.98,26600,72.02,26500,72.06,26300,72.09,26250,72.12,26100,72.16,25950,72.19,25900,72.22,25780,72.25,25680,72.26,25500,72.28,25440,72.30,25340,72.31,25230,72.33,25080,72.35,24920,72.36,24720,72.39,24530,72.40,24380,72.42,24280,72.45,24120,72.46,23960,72.47,23790,72.49,23620,72.51,23450,72.52,23320,72.54,23170];
let eLime = [71.17,25385,71.24,25385,71.32,25420,71.37,25440,71.41,25440,71.46,25460,71.50,25400,71.54,25390,71.58,25385,71.62,25460,71.65,25350,71.17,25560,71.23,25620,71.27,25560,71.31,25600,71.35,25560,71.39,25600,71.43,25570,71.47,25600,71.51,25570,71.55,25590,71.59,25570,71.63,25600,71.65,25570,71.6,27510,71.61,27350,71.62,27190,71.68,27320,71.74,27220,71.78,27290,71.83,27120,71.87,27160,71.70,26980,71.77,26930,71.92,26830,71.97,26800,72.03,26800,72.01,26570,72.05,26350,72.09,26060,72.10,26220,72.15,26030,72.19,26030,71.82,26930,72.15,26210,71.72,27100,71.80,27050,71.90,26990,71.95,26950,72.06,26650,71.60,27420,71.63,27240,71.66,27120,71.75,27050,71.85,27000,71.93,26920,71.98,26700,72.03,26500,72.07,26200,72.12,26050,72.18,25950,72.24,25980,72.26,25900,72.22,25820];
let eYellow = [71.21,25750,71.25,25720,71.29,25760,71.33,25720,71.37,25750,71.41,25720,71.45,25750,71.49,25720,71.53,25750,71.57,25720,71.61,25750,71.65,25700,71.66,25780,72.11,26150,72.27,26230,72.29,26060,72.32,25880,72.00,26700,72.08,26480,71.65,27400,71.72,27350,71.80,27280,71.62,27480,71.66,27350,71.72,27180,71.78,27160,71.84,27260,71.90,27100,71.95,27070,72.0,26950,72.04,26700,72.07,26560,72.10,26300,72.15,26120,72.22,26160,72.26,26080,71.24,25660,71.30,25680,71.36,25670,71.42,25670,71.48,25670,71.54,25670,71.60,25670,71.65,25650];
let eAmber = [70.88,27510,70.95,27480,71.0,27480,70.99,27640,71.04,27610,71.02,27560,70.98,27545,70.94,27370,70.96,27350,70.89,27340,71.52,27300,71.60,27010,71.57,27950,71.62,28420,71.13,25890,71.17,25930,71.21,25880,71.25,25930,71.29,25880,71.33,25920,71.37,25880,71.41,25920,71.45,25880,71.49,25920,71.53,25880,71.57,25920,71.61,25880,71.65,25910,71.14,26210,71.18,26180,71.17,26310,71.63,27680,71.68,27510,71.76,27420,71.83,27380,71.88,27220,72.23,26500,72.03,26660,71.61,27800,71.62,27600,71.68,27430,71.74,27460,71.80,27400,71.86,27300,71.93,27200,71.98,27000,72.02,26880,72.10,26500,72.13,26330,72.20,26380,71.20,25820,71.27,25830,71.34,25820,71.41,25830,71.48,25820,71.55,25830,71.62,25830,71.67,25830];
let eOrange = [70.67,27520,70.80,27640,70.91,27730,70.80,27450,70.85,27490,70.90,27510,71.67,25870,71.08,26050,71.12,26060,71.16,26050,71.20,26060,71.24,26020,71.28,26060,71.32,26020,71.36,26060,71.40,26020,71.44,26050,71.48,26020,71.52,26050,71.56,26020,71.60,26050,71.64,26020,71.68,26030,71.71,26040,71.63,28290,71.62,28190,71.61,28100,71.63,27970,71.66,27610,71.73,27580,71.79,27510,71.86,27420,71.92,27320,72.25,26620,72.20,26420,72.12,27370,72.17,27160,71.62,28050,71.63,27820,71.64,27650,71.70,27560,71.76,27520,71.82,27470,71.88,27380,71.95,27220,72.0,27100,72.06,26850,72.12,26420,72.17,26260,72.24,26400,71.14,26120,71.20,26120,71.28,26120,71.36,26120,71.44,26120,71.52,26120,71.60,26120,71.68,26100,71.73,26100,71.15,25980,71.21,25980,71.27,25980,71.33,25980,71.39,25980,71.45,25980,71.51,25980,71.57,25980,71.63,25980,71.69,25960];
let eRust = [71.03,27800,70.95,27480,71.2,26150,71.25,26170,71.30,26150,71.34,26180,71.38,26150,71.42,26180,71.46,26150,71.50,26180,71.54,26150,71.58,26180,71.62,26150,71.66,26180,71.70,26140,71.73,26180,71.08,26420,71.10,26360,71.64,27770,71.71,27740,71.78,27710,71.71,27490,71.84,27610,71.91,27510,71.91,27140,71.96,27290,71.96,26980,72.08,26810,72.12,26550,72.16,26370,72.19,26620,72.08,27120,72.09,27000,71.66,27700,71.70,27660,71.74,27700,71.80,27650,71.88,27580,71.94,27460,72.0,27350,72.06,27220,72.12,27150,72.14,26980,72.0,27000,71.68,27800,71.16,26200,71.22,26240,71.27,26240,71.33,26240,71.39,26240,71.45,26240,71.51,26240,71.57,26240,71.63,26240,71.69,26240,71.74,26260,72.02,27150,72.12,26700,72.16,26600];
let eRed = [71.13,26380,71.18,26420,71.21,26370,71.26,26330,71.30,26300,71.34,26330,71.38,26300,71.42,26330,71.46,26300,71.50,26330,71.54,26300,71.58,26330,71.62,26300,71.66,26330,71.70,26300,71.73,26350,71.76,26300,71.76,26450,71.72,26500,71.76,26420,71.73,26510,71.09,26570,71.13,26600,71.18,26620,71.20,26700,71.26,26700,71.39,28190,72.10,28260,71.58,28110,71.66,28000,71.69,27870,71.74,27840,71.81,27900,71.84,27710,71.90,27710,71.97,27580,72.01,27740,72.02,27510,72.06,27450,72.04,27320,72.10,27330,72.14,27220,72.13,27090,72.18,26940,72.20,26830,72.04,27030,72.0,27190,71.94,27510,72.15,26800,72.11,26900,71.68,27950,71.72,27880,71.78,27840,71.84,27850,71.88,27800,71.94,27780,71.98,27700,72.03,27620,72.08,27530,72.12,27430,72.17,27280,72.16,27120,72.20,27000,72.17,26870,72.22,26900,71.30,26420,71.36,26400,71.44,26400,71.52,26400,71.60,26400,71.68,26420,71.72,26420,71.17,26500,71.22,26480,71.75,27780,71.80,27780];
let eMaroon = [71.33,28000,71.21,26590,71.25,26450,71.29,26450,71.33,26450,71.37,26450,71.41,26450,71.45,26450,71.49,26450,71.53,26450,71.57,26450,71.61,26450,71.65,26450,71.27,26550,71.31,26550,71.35,26550,71.39,26550,71.43,26550,71.47,26550,71.51,26550,71.55,26550,71.59,26550,71.63,26550,71.66,26550,71.30,26650,71.34,26650,71.38,26700,71.42,26650,71.46,26650,71.50,26670,71.54,26670,71.58,26650,71.62,26650,71.69,28400,71.70,28420,71.67,28160,71.71,28230,71.76,28290,71.78,28260,71.82,28230,71.83,28100,71.72,27935,71.76,27935,71.68,28065,71.74,28100,71.79,28065,71.87,27935,71.90,27915,71.97,27850,71.72,28320,71.69,28280,71.72,28150,71.75,28200,71.78,28150,71.70,28050,71.74,28000,71.80,28000,71.84,28000,71.86,28050,71.68,28230,71.66,28100,71.81,28140,71.27,26500,71.35,26500,71.43,26500,71.51,26500,71.59,26500,71.31,26600,71.39,26600,71.47,26600,71.55,26600,71.63,26600,71.45,26720,71.52,26720,71.58,26720,71.35,26700];

// (f) corrected flux, second star
let fIndigo = [72.01,27030,71.75,26790,71.78,26810,71.81,26820,71.85,26830,71.88,26810,71.92,26790,71.95,26750,71.99,26800,72.02,26750,72.07,26710,72.64,26700];
let fDeep = [72.76,26290,72.70,26270,72.67,26320,72.65,26360,72.62,26360,72.58,26380,72.53,26390,72.49,26360,72.69,25980,72.66,25970,72.63,25970,72.57,25970,72.49,25970,72.43,25990,72.38,26000,72.29,25940,72.60,26350,72.56,26370,72.51,26370,72.71,26240,72.68,26030,72.60,25970,72.54,25980,72.46,25980];
let fBlue = [72.72,26140,72.69,26190,72.66,26260,72.62,26290,72.67,26100,72.64,26160,72.61,26060,72.65,26030,72.57,26160,72.52,26030,72.46,26000,72.39,26010,72.34,26030,72.68,26240,72.64,26220,72.60,26220,72.70,26150,72.62,26120,72.58,26080,72.55,26100,72.50,26000,72.42,26010];
let fCyan = [72.58,26230,72.54,26290,72.51,26260,72.46,26190,72.41,26160,72.34,26130,72.28,26230,72.25,26160,72.48,26060,72.42,26060,72.55,26220,72.50,26200,72.44,26220,72.38,26220,72.32,26180,72.28,26150,72.44,26120,72.52,26150];
let fSpring = [72.25,26730,72.29,26730,72.32,26650,72.36,26550,72.39,26490,72.43,26450,72.48,26390,72.20,26650,72.23,26520,72.28,26520,72.33,26420,72.39,26320,72.21,26320,72.28,26360,72.34,26290,72.44,26290,72.23,26600,72.27,26620,72.31,26580,72.35,26480,72.40,26400,72.45,26380,72.25,26420,72.30,26420,72.36,26370,72.42,26340,72.23,26260,72.30,26270];
let fGreen = [72.58,26100,72.54,26160,72.50,26230,72.44,26190,72.39,26130,72.34,26060,72.29,26030,72.25,26000,72.22,25920,72.18,25880,72.14,25870,72.10,25940,72.21,26100,72.52,26100,72.48,26120,72.42,26180,72.36,26200,72.30,26110,72.26,26090,72.23,26200,72.18,25980,72.14,25960,72.32,26050,72.38,26070,72.46,26160];
let fLime = [71.72,25750,71.65,25790,71.60,25770,71.57,25790,71.54,25790,71.50,25790,71.46,25820,71.41,25860,71.35,25840,71.29,25860,71.24,25880,71.18,25870,71.02,25900,70.97,25950,71.52,25880,71.62,25870,71.69,25900,71.75,25920,71.85,25940,71.95,25940,72.05,25950,71.39,25900,71.10,25950,71.21,25900,71.33,25880,71.44,25870,71.55,25850,71.65,25840,71.78,25900,71.90,25920,72.0,25930,71.47,25880];
let fYellow = [71.02,26000,71.04,26030,72.30,26450,72.32,26430,71.23,25920,71.31,25920,71.42,25920,71.53,25930,71.63,25930,71.72,25950,71.82,25980,71.92,25990,72.0,25990,72.07,25990,70.98,26000,71.36,25910,71.48,25930,71.58,25930,71.68,25940,71.78,25960,71.88,25970,71.97,25980,72.03,25980,70.96,26000];
let fAmber = [71.46,26710,71.62,26700,72.17,26750,72.12,26680,72.07,26680,72.03,26660,71.99,26650,71.93,26650,71.85,26670,71.78,26650,71.72,26620,71.65,26600,71.59,26600,71.52,26600,71.42,26550,71.31,26520,70.95,26320,70.88,26260,70.99,26290,70.88,26100,71.24,25970,71.31,25950,71.50,25970,71.80,25990,72.17,26490,72.13,26550,71.36,26650,71.50,26650,71.57,26650,71.68,26650,71.75,26670,71.88,26680,71.96,26690,72.10,26720,71.90,26640,71.10,26040,71.27,25960,71.40,25960,71.60,25960,71.70,25960,71.90,25980,71.0,26180,70.92,26240];
let fOrange = [70.67,26380,70.80,26380,70.79,26230,70.85,26240,70.91,26380,70.90,26190,70.94,26060,70.99,26080,71.12,26030,71.15,26100,71.20,26100,72.26,26530,72.18,26490,71.11,26360,71.17,26290,71.26,26550,71.39,26520,71.50,26550,71.60,26550,71.70,26550,71.82,26520,71.98,26520,72.06,26520,71.32,26000,71.42,26000,71.52,26000,71.62,26000,71.72,26000,71.82,26010,71.92,26030,72.01,26060,72.11,26060,72.18,26060,71.0,26300,70.95,26180,71.05,26200,71.10,26130,71.15,26150,71.27,26000,71.37,26010,71.47,26000,71.57,26000,71.67,26000,71.77,26010,71.87,26010,71.97,26020,72.06,26020,72.14,26050,71.20,26520,71.32,26580,71.44,26590,71.55,26580,71.65,26570,71.75,26580,71.88,26560,71.93,26560,72.02,26550,72.10,26550,72.15,26480];
let fRust = [71.03,26340,71.08,26320,71.13,26080,71.08,26010,71.13,26250,71.26,26060,71.36,26060,71.46,26060,71.55,26060,71.65,26060,71.75,26060,71.85,26060,71.95,26100,72.05,26100,72.15,26100,72.19,26100,71.19,26490,71.26,26490,71.36,26490,71.46,26510,71.55,26490,71.65,26470,71.75,26470,71.85,26470,71.95,26450,72.05,26420,72.15,26420,72.20,26390,71.15,26350,71.17,26200,71.22,26150,71.30,26060,71.40,26050,71.50,26050,71.60,26050,71.70,26050,71.80,26030,71.90,26040,72.00,26060,72.10,26060,71.22,26480,71.30,26530,71.42,26520,71.50,26530,71.60,26510,71.70,26500,71.80,26500,71.90,26470,72.00,26440,72.10,26440,72.18,26330];
let fRed = [71.38,26600,71.16,26390,71.23,26390,72.18,26290,72.20,26270,72.14,26290,72.11,26260,72.06,26320,72.01,26390,71.98,26360,71.93,26390,71.88,26260,71.83,26390,71.78,26360,71.97,26160,71.90,26130,72.06,26160,72.14,26160,71.83,26060,71.68,26390,71.62,26450,71.77,26230,71.95,26280,72.03,26240,72.10,26180,71.92,26200,71.20,26290,71.26,26400,71.31,26480,71.37,26470,71.45,26470,71.52,26470,71.59,26470,71.66,26420,71.72,26380,71.72,26150,71.78,26100,71.84,26140,71.87,26160,71.90,26270,71.95,26190,71.98,26220,72.0,26150,72.03,26130,72.06,26250,72.09,26120,72.12,26300,72.17,26180,72.19,26230,71.81,26240,71.85,26320,71.90,26340,71.96,26320,72.03,26360,72.08,26340,71.30,26100,71.40,26090,71.50,26080,71.60,26090,71.70,26090];
let fMaroon = [71.09,26320,71.13,26360,71.20,26470,71.21,26320,71.25,26160,71.28,26450,71.27,26420,71.33,26420,71.39,26420,71.45,26420,71.51,26420,71.57,26420,71.62,26420,71.25,26320,71.31,26320,71.37,26320,71.43,26320,71.49,26320,71.55,26320,71.61,26320,71.67,26320,71.71,26320,71.77,26320,71.26,26220,71.32,26220,71.38,26220,71.44,26220,71.50,26220,71.56,26220,71.62,26220,71.68,26220,71.74,26220,71.78,26220,71.30,26130,71.36,26130,71.42,26130,71.48,26130,71.54,26130,71.60,26130,71.70,26130,71.75,26130,71.80,26130,71.29,26370,71.35,26370,71.41,26370,71.47,26370,71.53,26370,71.59,26370,71.65,26360,71.29,26270,71.35,26270,71.41,26270,71.47,26270,71.53,26270,71.59,26270,71.65,26270,71.72,26270,71.78,26270,71.28,26170,71.35,26170,71.41,26170,71.47,26170,71.53,26170,71.59,26170,71.65,26170,71.71,26170,71.76,26170,71.22,26240,71.25,26420,71.67,26160,71.82,26180];

let lineColors = ['navy','dodgerblue','forestgreen','darkorange','crimson'];
let bandColors = ['#37217a','#4150c0','#3f8df5','#1ccbe0','#2aeea0','#7cfa4f','#c4f134','#e3dc38','#fdb638','#f9791e','#e2440a','#b81d02','#7a0403'];

let firstRow = [aNavy,aBlue,aGreen,aOrange,aCrimson];
let secondRow = [bNavy,bBlue,bGreen,bOrange,bCrimson];
let cBands = [cIndigo,cDeep,cBlue,cCyan,cSpring,cGreen,cLime,cYellow,cAmber,cOrange,cRust,cRed,cMaroon];
let dBands = [dIndigo,dDeep,dBlue,dCyan,dSpring,dGreen,dLime,dYellow,dAmber,dOrange,dRust,dRed,dMaroon];
let eBands = [eIndigo,eDeep,eBlue,eCyan,eSpring,eGreen,eLime,eYellow,eAmber,eOrange,eRust,eRed,eMaroon];
let fBands = [fIndigo,fDeep,fBlue,fCyan,fSpring,fGreen,fLime,fYellow,fAmber,fOrange,fRust,fRed,fMaroon];

let panelLabels = ['(a)','(b)','(c)','(d)','(e)','(f)'];
let xRanges = [[-15.125,-14.457],[-15.5,-13.6],[70.564,72.859]];
let yRanges = [[3800,3950],[3800,4025],[21000,29000]];
let xTicks = [[-15,0.2,0.05],[-15.5,0.5,0.1],[71,0.5,0.1]];
let yTicks = [[3800,25,5],[3800,50,10],[22000,2000,500]];

const W = 1087, H = 1509;
const SERIF = 'DejaVu Serif';
let colLeft = [141,606], colRight = [606,1072];
let rowTop = [43,531,1019], rowBottom = [453,941,1429];

function xs(a) { return a.filter((v,i) => i % 2 == 0); }
function ys(a) { return a.filter((v,i) => i % 2 == 1); }

let data = [];
let layout = {width: W, height: H, margin: {l:0,r:0,t:0,b:0}, showlegend: false,
  paper_bgcolor:'white', plot_bgcolor:'white', annotations: [],
  font: {family: SERIF, color:'black'}};

function axisStyle(r, kind, inner) {
  let tk = kind == 'x' ? xTicks[r] : yTicks[r];
  return {
    range: kind == 'x' ? xRanges[r] : yRanges[r],
    tick0: tk[0], dtick: tk[1],
    ticks: inner ? 'inside' : 'outside', ticklen: 6, tickwidth: 1.3, tickcolor:'black',
    minor: {ticks: inner ? 'inside' : 'outside', ticklen: 3.5, tickwidth: 1, tickcolor:'black', dtick: tk[2], tick0: tk[0], showgrid:false},
    showline: true, linecolor:'black', linewidth: 1.3, mirror:'ticks', zeroline:false, showgrid:false,
    tickfont: {family: SERIF, size: 27.3, color:'black'},
    tickformat: kind == 'x' ? '.1f' : 'd',
    ticklabelstandoff: kind == 'x' ? -8 : -2,
    ticklabeloverflow:'allow'
  };
}

for (let r = 0; r < 3; r++) {
  for (let c = 0; c < 2; c++) {
    let n = r * 2 + c + 1;          // main axes 1..6
    let m = n + 6;                  // overlays 7..12 carry the inner half of the ticks
    let xa = 'x' + n, ya = 'y' + n;
    let sets = r == 0 ? (c == 0 ? firstRow : secondRow) : r == 1 ? (c == 0 ? cBands : dBands) : (c == 0 ? eBands : fBands);
    sets.forEach((s,i) => {
      if (r == 0) {
        data.push({x: xs(s), y: ys(s), xaxis: xa, yaxis: ya, mode:'lines', hoverinfo:'skip',
          line: {color: lineColors[i], width: 2.1}});
      } else {
        data.push({x: xs(s), y: ys(s), xaxis: xa, yaxis: ya, mode:'markers', hoverinfo:'skip',
          marker: {color: bandColors[i], size: 9.2, line:{width:0}}});
      }
    });
    data.push({x: [], y: [], xaxis:'x'+m, yaxis:'y'+m, mode:'markers', hoverinfo:'skip'});

    let xDom = [colLeft[c]/W, colRight[c]/W];
    let yDom = [1 - rowBottom[r]/H, 1 - rowTop[r]/H];

    let xMain = axisStyle(r, 'x', false);
    xMain.domain = xDom; xMain.anchor = ya;
    xMain.title = {text: "x' [pxl]", font: {family: SERIF, size: 28}, standoff: 4};
    let yMain = axisStyle(r, 'y', false);
    yMain.domain = yDom; yMain.anchor = xa;
    if (c == 0) yMain.title = {text: 'Flux [1/s]', font: {family: SERIF, size: 28}, standoff: 6};
    else yMain.showticklabels = false;

    let xIn = axisStyle(r, 'x', true);
    xIn.domain = xDom; xIn.anchor = 'y'+m; xIn.overlaying = xa; xIn.showticklabels = false;
    let yIn = axisStyle(r, 'y', true);
    yIn.domain = yDom; yIn.anchor = 'x'+m; yIn.overlaying = ya; yIn.showticklabels = false;

    layout['xaxis'+n] = xMain; layout['yaxis'+n] = yMain;
    layout['xaxis'+m] = xIn;   layout['yaxis'+m] = yIn;

    layout.annotations.push({text: panelLabels[n-1], xref: xa+' domain', yref: ya+' domain', x: 0.027, y: 0.075,
      xanchor:'left', yanchor:'middle', showarrow:false, font:{family:SERIF, size:27.5, color:'black'}});
  }
}

layout.annotations.push({text:'Raw flux', xref:'paper', yref:'paper', x:374/W, y:1-23/H, xanchor:'center', yanchor:'middle', showarrow:false, font:{family:SERIF, size:33.5, color:'black'}});
layout.annotations.push({text:'Corrected flux', xref:'paper', yref:'paper', x:839/W, y:1-23/H, xanchor:'center', yanchor:'middle', showarrow:false, font:{family:SERIF, size:33.5, color:'black'}});

Plotly.newPlot('chart', data, layout, {staticPlot:true, displayModeBar:false});
</script>
</body>
</html>
